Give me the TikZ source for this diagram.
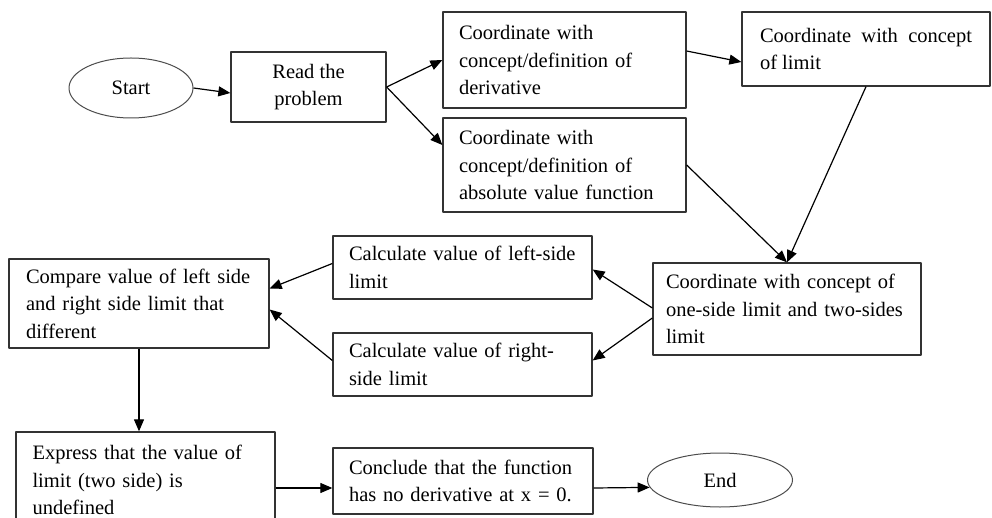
\documentclass[tikz,border=0pt]{standalone}
\usepackage{fontspec}
\setmainfont{Liberation Serif}
\usetikzlibrary{shapes.geometric,arrows.meta}
\hyphenpenalty=10000
\begin{document}
\begin{tikzpicture}[x=1pt,y=-1pt,line join=round,>={Triangle[length=12pt,width=10pt]},font=\fontsize{20.5}{27.5}\selectfont,
	box/.style={draw=black!80,line width=1.3pt,inner sep=0pt,align=left},
	oval/.style={ellipse,draw=black!70,line width=1pt,inner sep=0pt},
	arr/.style={->,line width=1.2pt}]
	\useasboundingbox (0,0) rectangle (992,518);
	\clip (0,0) rectangle (992,518);
	\node[oval,minimum width=124pt,minimum height=60pt] (start) at (131,88) {Start};
	\node[box,minimum width=155pt,minimum height=70pt,align=center] (read) at (308.5,87) {Read the\\problem};
	\node[box,minimum width=243pt,minimum height=96pt,text width=211pt] (deriv) at (564.5,60) {Coordinate with\\concept/definition of\\derivative};
	\node[box,minimum width=243pt,minimum height=94pt,text width=211pt] (abs) at (564.5,165) {Coordinate with\\concept/definition of\\absolute value function};
	\node[box,minimum width=248pt,minimum height=74pt,text width=212pt,align=justify] (limit) at (866,49) {Coordinate with concept of limit};
	\node[box,minimum width=268pt,minimum height=92pt,text width=242pt] (onesided) at (787,309) {Coordinate with concept of\\one-side limit and two-sides\\limit};
	\node[box,minimum width=259pt,minimum height=63pt,text width=227pt] (leftcalc) at (462.5,267.5) {Calculate value of left-side\\limit};
	\node[box,minimum width=259pt,minimum height=63pt,text width=227pt] (rightcalc) at (462.5,364.5) {Calculate value of right-\\side limit};
	\node[box,minimum width=260pt,minimum height=89pt,text width=226pt] (compare) at (139,303.5) {Compare value of left side\\and right side limit that\\different};
	\node[box,minimum width=259pt,minimum height=96pt,text width=226pt] (express) at (145.5,480) {Express that the value of\\limit (two side) is\\undefined};
	\node[box,minimum width=260pt,minimum height=66pt,text width=228pt] (conclude) at (463,481) {Conclude that the function\\has no derivative at x = 0.};
	\node[oval,minimum width=145pt,minimum height=54pt] (stop) at (720,480) {End};
	\draw[arr] (start.east)--([yshift=-6pt]read.west);
	\draw[arr] (read.east)--(deriv.west);
	\draw[arr] (read.east)--([yshift=20pt]abs.west);
	\draw[arr] ([yshift=9pt]deriv.east)--([yshift=-13pt]limit.west);
	\draw[arr] (limit.south)--(onesided.north);
	\draw[arr] (abs.east)--(onesided.north);
	\draw[arr] ([yshift=1pt]onesided.west)--([yshift=-2pt]leftcalc.east);
	\draw[arr] ([yshift=-9pt]onesided.west)--([yshift=4pt]rightcalc.east);
	\draw[arr] ([yshift=4pt]leftcalc.west)--([yshift=15pt]compare.east);
	\draw[arr] ([yshift=4pt]rightcalc.west)--([yshift=-6pt]compare.east);
	\draw[arr] (compare.south)--(compare.south|-express.north);
	\draw[arr] ([yshift=-7pt]conclude.west-|express.east)--([yshift=-7pt]conclude.west);
	\draw[arr] ([yshift=-7pt]conclude.east)--(stop.186);
\end{tikzpicture}
\end{document}
